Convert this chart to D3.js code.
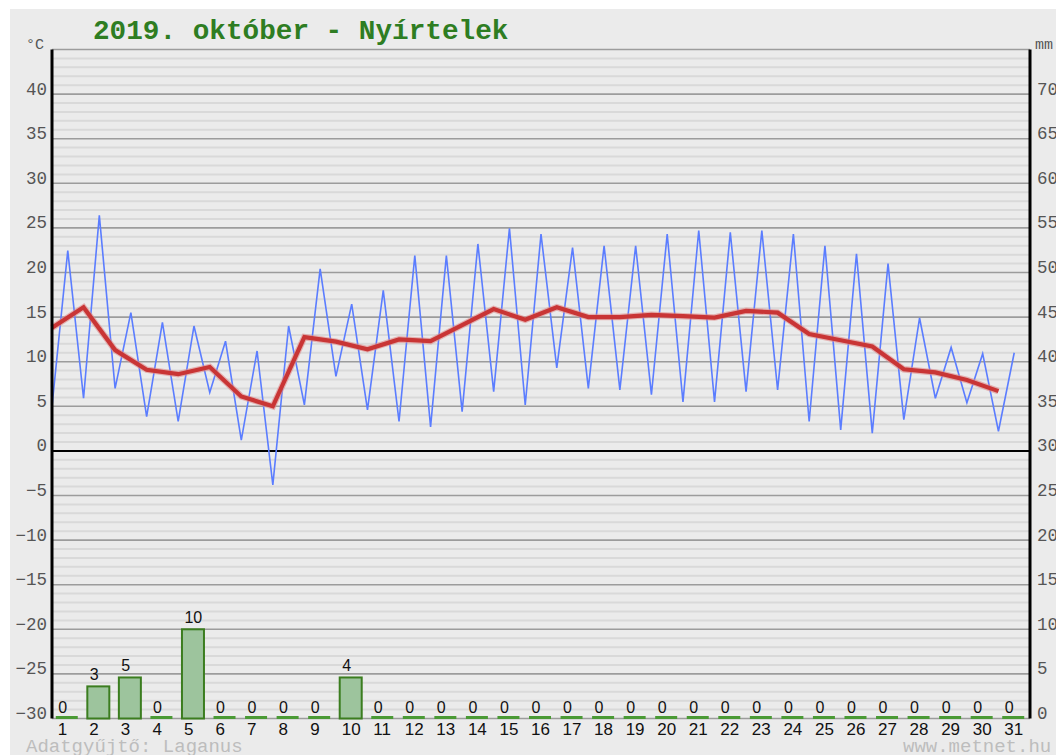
<!DOCTYPE html>
<html>
<head>
<meta charset="utf-8">
<script src="https://cdn.jsdelivr.net/npm/d3@7"></script>
<style>
  body { margin: 0; background: #ffffff; }
  svg { display: block; }
</style>
</head>
<body>
<svg id="chart" width="1056" height="755"></svg>
<script>
// ---- data ----
const title = "2019. október - Nyírtelek";
const days = d3.range(1, 32);
const tMin = [5.0, 5.9, 7.0, 3.85, 3.3, 6.55, 1.2, -3.8, 5.15, 8.35, 4.6, 3.3, 2.7, 4.4, 6.65, 5.15, 9.3, 7.0, 6.85, 6.3, 5.5, 5.5, 6.65, 6.85, 3.3, 2.35, 2.0, 3.5, 5.9, 5.4, 2.2];
const tMax = [22.45, 26.4, 15.5, 14.4, 14.0, 12.3, 11.2, 14.0, 20.4, 16.45, 18.0, 21.9, 21.9, 23.2, 24.95, 24.3, 22.8, 23.0, 23.0, 24.3, 24.7, 24.5, 24.7, 24.3, 23.0, 22.1, 21.0, 14.9, 11.6, 10.9, 11.0];
const tAvg = [13.8, 16.1, 11.3, 9.1, 8.6, 9.4, 6.1, 5.0, 12.75, 12.25, 11.4, 12.5, 12.3, 14.1, 15.9, 14.7, 16.1, 15.0, 15.0, 15.25, 15.1, 14.95, 15.7, 15.5, 13.1, 12.4, 11.7, 9.15, 8.8, 7.95, 6.7];
const precip = [0, 3.6, 4.6, 0, 10, 0, 0, 0, 0, 4.6, 0, 0, 0, 0, 0, 0, 0, 0, 0, 0, 0, 0, 0, 0, 0, 0, 0, 0, 0, 0, 0];
const precipLabels = ["0","3","5","0","10","0","0","0","0","4","0","0","0","0","0","0","0","0","0","0","0","0","0","0","0","0","0","0","0","0","0"];
const tempTicks = [-30, -25, -20, -15, -10, -5, 0, 5, 10, 15, 20, 25, 30, 35, 40];
const mmTicks = [0, 5, 10, 15, 20, 25, 30, 35, 40, 45, 50, 55, 60, 65, 70];
const footerLeft = "Adatgyűjtő: Laganus";
const footerRight = "www.metnet.hu";

// ---- layout ----
const svg = d3.select("#chart");
const L = 52, R = 1030, T = 49.5, B = 718.5;

svg.append("rect").attr("x", 10).attr("y", 9).attr("width", 1046).attr("height", 746).attr("fill", "#ebebeb");

const x = d3.scaleBand().domain(days).range([L, R]).padding(0);
const y = d3.scaleLinear().domain([-30, 45]).range([B, T]);
const yMM = d3.scaleLinear().domain([0, 75]).range([B, T]);

// grid
const g = svg.append("g");
d3.range(-30, 46, 1).forEach(v => {
  if (v % 5 !== 0) {
    g.append("line").attr("x1", L).attr("x2", R).attr("y1", y(v)).attr("y2", y(v))
      .attr("stroke", "#d9d9d9").attr("stroke-width", 2);
  }
});
d3.range(-30, 46, 5).forEach(v => {
  if (v !== 0) {
    g.append("line").attr("x1", L).attr("x2", R).attr("y1", y(v)).attr("y2", y(v))
      .attr("stroke", "#9c9c9c").attr("stroke-width", 1.6);
  }
});
g.append("line").attr("x1", L).attr("x2", R).attr("y1", y(0)).attr("y2", y(0))
  .attr("stroke", "#000").attr("stroke-width", 2);

// precipitation bars
const bw = 22;
const bx = d => x(d) + (x.bandwidth() - bw) / 2 - 1;
const bars = svg.append("g");
days.forEach((d, i) => {
  const v = precip[i];
  if (v > 0) {
    bars.append("rect").attr("x", bx(d)).attr("y", yMM(v)).attr("width", bw).attr("height", yMM(0) - yMM(v))
      .attr("fill", "#9dc49d").attr("stroke", "#3b7d1f").attr("stroke-width", 2);
  } else {
    bars.append("line").attr("x1", bx(d)).attr("x2", bx(d) + bw).attr("y1", yMM(0) - 1).attr("y2", yMM(0) - 1)
      .attr("stroke", "#4a9a35").attr("stroke-width", 3);
  }
  bars.append("text").attr("x", x(d) + x.bandwidth() / 2 - 9.5).attr("y", yMM(v) - 6)
    .attr("font-family", "Liberation Sans, Arial, sans-serif").attr("font-size", 16)
    .attr("fill", "#111").text(precipLabels[i]);
});

// temperature min/max line
const mmPts = [];
days.forEach((d, i) => {
  mmPts.push([x(d), tMin[i]]);
  mmPts.push([x(d) + x.bandwidth() / 2, tMax[i]]);
});
svg.append("path").datum(mmPts)
  .attr("d", d3.line().x(p => p[0]).y(p => y(p[1])))
  .attr("fill", "none").attr("stroke", "#5b7dff").attr("stroke-width", 1.6).attr("stroke-linejoin", "miter");

// average line
svg.append("path").datum(days.map((d, i) => [x(d), tAvg[i]]))
  .attr("d", d3.line().x(p => p[0]).y(p => y(p[1])))
  .attr("fill", "none").attr("stroke", "#e08a8a").attr("stroke-width", 6.5).attr("opacity", 0.6);
svg.append("path").datum(days.map((d, i) => [x(d), tAvg[i]]))
  .attr("d", d3.line().x(p => p[0]).y(p => y(p[1])))
  .attr("fill", "none").attr("stroke", "#c93535").attr("stroke-width", 4.2);

// axis lines
svg.append("line").attr("x1", L).attr("x2", L).attr("y1", T).attr("y2", B).attr("stroke", "#000").attr("stroke-width", 3);
svg.append("line").attr("x1", R).attr("x2", R).attr("y1", T).attr("y2", B).attr("stroke", "#000").attr("stroke-width", 3);

// left axis
const axL = svg.append("g").attr("transform", `translate(${L - 5},0)`)
  .call(d3.axisLeft(y).tickValues(tempTicks).tickSize(0).tickPadding(0).tickFormat(d3.format("d")));
axL.select(".domain").remove();
axL.selectAll("text").attr("dy", "0").attr("font-family", "Liberation Mono, monospace").attr("font-size", 17.5).attr("fill", "#555");

// right axis
const axR = svg.append("g").attr("transform", `translate(${R + 7},0)`)
  .call(d3.axisRight(yMM).tickValues(mmTicks).tickSize(0).tickPadding(0).tickFormat(d3.format("d")));
axR.select(".domain").remove();
axR.selectAll("text").attr("dy", "0").attr("font-family", "Liberation Mono, monospace").attr("font-size", 17.5).attr("fill", "#555");

// bottom day labels
const axB = svg.append("g").attr("transform", `translate(0,${B})`)
  .call(d3.axisBottom(x).tickSize(0).tickPadding(0));
axB.select(".domain").remove();
axB.selectAll("text").attr("text-anchor", "start").attr("dx", "-10").attr("dy", "0").attr("y", 16.5)
  .attr("font-family", "Liberation Sans, Arial, sans-serif").attr("font-size", 17).attr("fill", "#111");

// units
svg.append("text").attr("x", 26).attr("y", 49).attr("font-family", "Liberation Mono, monospace").attr("font-size", 15).attr("fill", "#555").text("°C");
svg.append("text").attr("x", 1035).attr("y", 49).attr("font-family", "Liberation Mono, monospace").attr("font-size", 15).attr("fill", "#555").text("mm");

// title
svg.append("text").attr("x", 93).attr("y", 39).attr("font-family", "Liberation Mono, monospace").attr("font-weight", "bold")
  .attr("font-size", 27.7).attr("fill", "#2e7d22").text(title);

// footer
svg.append("text").attr("x", 26).attr("y", 752).attr("font-family", "Liberation Mono, monospace").attr("font-size", 19).attr("fill", "#bdbdbd").text(footerLeft);
svg.append("text").attr("x", 903).attr("y", 752).attr("font-family", "Liberation Mono, monospace").attr("font-size", 19).attr("fill", "#bdbdbd").text(footerRight);
</script>
</body>
</html>
